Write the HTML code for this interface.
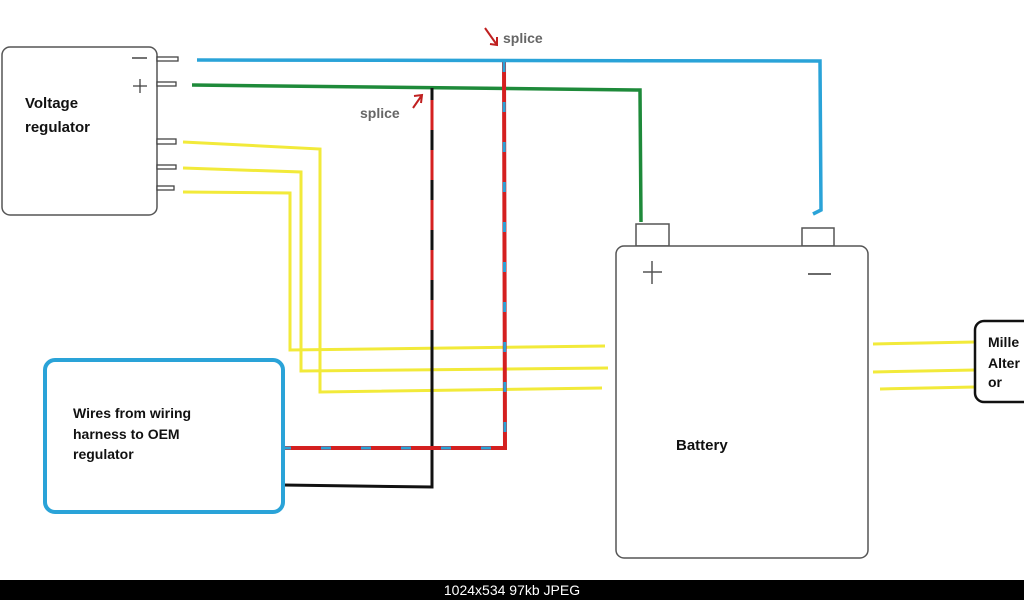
<!DOCTYPE html>
<html><head><style>
html,body{margin:0;padding:0;background:#fff;}
svg{display:block;}
text{font-family:"Liberation Sans",Arial,sans-serif;}
</style></head><body>
<svg width="1024" height="600" viewBox="0 0 1024 600" xmlns="http://www.w3.org/2000/svg">
<rect width="1024" height="600" fill="#fff"/>
<!-- Voltage regulator -->
<rect x="2" y="47" width="155" height="168" rx="8" fill="#fff" stroke="#555" stroke-width="1.5"/>
<g fill="#fff" stroke="#444" stroke-width="1.3">
<rect x="157" y="57" width="21" height="4"/>
<rect x="157" y="82" width="19" height="4"/>
<rect x="157" y="139" width="19" height="5"/>
<rect x="157" y="165" width="19" height="4"/>
<rect x="157" y="186" width="17" height="4"/>
</g>
<line x1="132" y1="58" x2="147" y2="58" stroke="#444" stroke-width="1.5"/>
<line x1="133" y1="86" x2="147" y2="86" stroke="#444" stroke-width="1.3"/>
<line x1="140" y1="79" x2="140" y2="93" stroke="#444" stroke-width="1.3"/>
<text x="25" y="108" font-size="15" font-weight="bold" fill="#111">Voltage</text>
<text x="25" y="132" font-size="15" font-weight="bold" fill="#111">regulator</text>
<!-- yellow wires -->
<g fill="none" stroke="#f2ea3a" stroke-width="3">
<polyline points="183,142 320,149 320,392 602,388"/>
<polyline points="183,168 301,172 301,371 608,368"/>
<polyline points="183,192 290,193 290,350 605,346"/>
<line x1="873" y1="344" x2="975" y2="342"/>
<line x1="873" y1="372" x2="975" y2="370"/>
<line x1="880" y1="389" x2="975" y2="387"/>
</g>
<!-- blue wire -->
<polyline points="197,60 820,61 821,210 813,214" fill="none" stroke="#2aa3d8" stroke-width="3.5"/>
<!-- green wire -->
<polyline points="192,85 640,90 641,222" fill="none" stroke="#1e8a3a" stroke-width="3.5"/>
<!-- black/red wire -->
<polyline points="432,88 432,487 283,485" fill="none" stroke="#111" stroke-width="3"/>
<polyline points="432,100 432,330 M432,420 432,487 320,487" fill="none" stroke="#d42020" stroke-width="3" stroke-dasharray="30,20"/>
<!-- red/blue dashed -->
<polyline points="504,62 505,448 283,448" fill="none" stroke="#d42020" stroke-width="4"/>
<polyline points="504,62 505,448 283,448" fill="none" stroke="#2aa3d8" stroke-width="3" stroke-dasharray="10,30"/>
<!-- harness box -->
<rect x="45" y="360" width="238" height="152" rx="10" fill="none" stroke="#2aa3d8" stroke-width="4"/>
<text x="73" y="418" font-size="14" font-weight="bold" fill="#111">Wires from wiring</text>
<text x="73" y="439" font-size="14" font-weight="bold" fill="#111">harness to OEM</text>
<text x="73" y="459" font-size="14" font-weight="bold" fill="#111">regulator</text>
<!-- battery -->
<rect x="636" y="224" width="33" height="22" fill="#fff" stroke="#555" stroke-width="1.5"/>
<rect x="802" y="228" width="32" height="18" fill="#fff" stroke="#555" stroke-width="1.5"/>
<rect x="616" y="246" width="252" height="312" rx="8" fill="#fff" stroke="#555" stroke-width="1.5"/>
<line x1="643" y1="272" x2="662" y2="272" stroke="#555" stroke-width="1.5"/>
<line x1="652" y1="261" x2="652" y2="284" stroke="#555" stroke-width="1.5"/>
<line x1="808" y1="274" x2="831" y2="274" stroke="#555" stroke-width="1.8"/>
<text x="676" y="450" font-size="15" font-weight="bold" fill="#111">Battery</text>
<!-- Miller box -->
<rect x="975" y="321" width="60" height="81" rx="9" fill="#fff" stroke="#111" stroke-width="2.5"/>
<text x="988" y="347" font-size="14" font-weight="bold" fill="#111">Mille</text>
<text x="988" y="368" font-size="14" font-weight="bold" fill="#111">Alter</text>
<text x="988" y="387" font-size="14" font-weight="bold" fill="#111">or</text>
<!-- splice labels -->
<text x="503" y="43" font-size="14" font-weight="bold" fill="#666">splice</text>
<path d="M485,28 L497,45 M490,44 L497,45 L497,37" fill="none" stroke="#c02020" stroke-width="2"/>
<text x="360" y="118" font-size="14" font-weight="bold" fill="#666">splice</text>
<path d="M413,108 L422,95 M414,96 L422,95 L421,103" fill="none" stroke="#c02020" stroke-width="2"/>
<!-- bottom bar -->
<rect x="0" y="580" width="1024" height="20" fill="#000"/>
<text x="512" y="595" font-size="14" fill="#fff" text-anchor="middle" font-family="Liberation Sans, sans-serif">1024x534  97kb  JPEG</text>
</svg>
</body></html>
